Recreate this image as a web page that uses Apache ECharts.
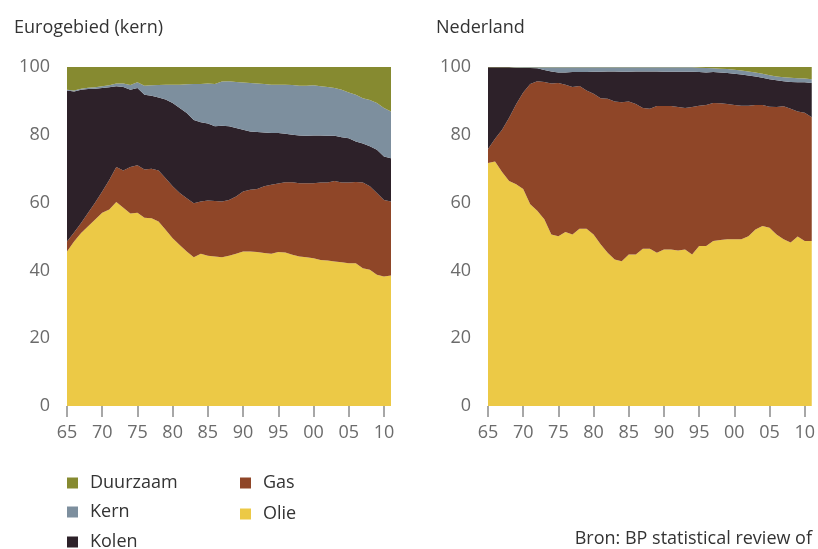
<!DOCTYPE html>
<html>
<head>
<meta charset="utf-8">
<script src="https://cdn.jsdelivr.net/npm/echarts@6/dist/echarts.min.js"></script>
<style>
html,body{margin:0;padding:0;background:#fff;}
#c{width:818px;height:549px;}
</style>
</head>
<body>
<div id="c"></div>
<script>
var years = [];
for (var y = 1965; y <= 2011; y++) years.push(String(y));

var seriesNames = ['Olie', 'Gas', 'Kolen', 'Kern', 'Duurzaam'];

// Eurogebied (kern), % share, 1965-2011
var euOlie = [45.6,48.5,51.0,53.0,55.0,57.0,58.0,60.2,58.5,56.8,57.0,55.5,55.4,54.4,52.0,49.5,47.5,45.6,43.9,44.9,44.3,44.1,43.9,44.3,44.9,45.6,45.6,45.4,45.1,44.9,45.4,45.3,44.6,44.1,43.9,43.6,43.1,42.9,42.6,42.4,42.1,42.1,40.6,40.2,38.7,38.2,38.5];
var euGas = [2.9,2.7,3.0,4.0,5.0,6.3,8.7,10.3,11.0,13.7,14.0,14.3,14.6,15.1,15.2,15.3,15.3,15.7,15.9,15.4,16.3,16.4,16.4,16.5,16.9,17.7,18.2,18.6,19.7,20.4,20.2,20.7,21.4,21.6,21.8,22.1,22.8,23.0,23.8,23.5,23.8,24.0,25.3,24.6,24.1,22.6,21.8];
var euKolen = [44.6,41.6,39.3,36.5,33.6,30.5,27.3,23.8,24.6,22.8,22.8,22.0,21.5,21.5,23.2,24.6,25.1,25.1,24.6,23.4,22.7,22.0,22.4,21.7,20.2,18.2,17.2,16.8,15.9,15.2,14.9,14.3,14.0,14.1,14.0,14.1,13.9,13.8,13.3,13.4,13.1,11.9,11.5,11.8,12.8,12.8,12.8];
var euKern = [0.2,0.3,0.3,0.4,0.4,0.5,0.6,0.8,1.0,1.4,1.7,2.7,3.1,3.7,4.4,5.4,6.9,8.5,10.6,11.3,11.8,12.5,13.0,13.3,13.6,13.9,14.3,14.3,14.3,14.3,14.3,14.5,14.7,14.7,14.8,14.8,14.5,14.4,14.1,14.0,13.5,13.8,13.4,13.7,13.8,14.3,13.8];
var euDuurzaam = [6.7,6.9,6.4,6.1,6.0,5.7,5.4,4.9,4.9,5.3,4.5,5.5,5.4,5.3,5.2,5.2,5.2,5.1,5.0,5.0,4.9,5.0,4.3,4.2,4.4,4.6,4.7,4.9,5.0,5.2,5.2,5.2,5.3,5.5,5.5,5.4,5.7,5.9,6.2,6.7,7.5,8.2,9.2,9.7,10.6,12.1,13.1];

// Nederland, % share, 1965-2011
var nlOlie = [71.7,72.1,69.0,66.4,65.4,64.0,59.5,57.6,55.1,50.6,50.1,51.3,50.6,52.3,52.3,50.6,47.7,45.2,43.2,42.7,44.7,44.7,46.4,46.4,45.2,46.2,46.2,45.9,46.2,44.7,47.2,47.2,48.7,49.0,49.2,49.2,49.2,50.1,52.1,53.1,52.6,50.6,49.2,48.2,50.0,48.7,48.7];
var nlGas = [4.1,6.7,12.5,18.6,23.6,28.5,35.5,38.2,40.5,44.5,45.2,43.5,43.5,42.1,40.8,41.5,43.1,45.4,46.6,46.9,45.1,44.4,41.5,41.3,43.3,42.3,42.3,42.3,41.7,43.5,41.4,41.6,40.7,40.3,39.9,39.6,39.4,38.5,36.7,35.7,35.7,37.6,39.2,39.5,36.9,37.8,36.5];
var nlKolen = [24.1,21.1,18.4,14.9,10.8,7.2,4.7,3.8,3.5,3.6,3.1,3.6,4.4,4.1,5.4,6.5,7.8,8.1,8.9,9.0,8.8,9.6,10.8,11.0,10.2,10.1,10.1,10.4,10.7,10.4,9.9,9.6,9.1,9.1,9.1,9.2,9.2,8.9,8.4,8.0,8.1,7.9,7.4,7.9,8.6,9.0,10.1];
var nlKern = [0,0,0,0,0.1,0.2,0.2,0.3,0.8,1.2,1.5,1.5,1.4,1.4,1.4,1.3,1.3,1.2,1.2,1.3,1.3,1.2,1.2,1.2,1.2,1.3,1.3,1.3,1.3,1.3,1.3,1.3,1.1,1.1,1.2,1.2,1.2,1.2,1.2,1.2,1.2,1.1,1.2,1.2,1.2,1.1,1.1];
var nlDuurzaam = [0.1,0.1,0.1,0.1,0.1,0.1,0.1,0.1,0.1,0.1,0.1,0.1,0.1,0.1,0.1,0.1,0.1,0.1,0.1,0.1,0.1,0.1,0.1,0.1,0.1,0.1,0.1,0.1,0.1,0.1,0.2,0.3,0.4,0.5,0.6,0.8,1.0,1.3,1.6,2.0,2.4,2.8,3.0,3.2,3.3,3.4,3.6];

var yTicks = [0, 20, 40, 60, 80, 100];

var colors = {
  Olie: '#ecc946',
  Gas: '#8f4628',
  Kolen: '#2d2129',
  Kern: '#7d8f9e',
  Duurzaam: '#868a30'
};

var FONT = 'Open Sans';
var chart = echarts.init(document.getElementById('c'), null, {renderer: 'canvas'});

function xAxis(idx) {
  return {
    type: 'category', gridIndex: idx, data: years, boundaryGap: false,
    axisLine: {show: false},
    axisTick: {show: true, length: 11, lineStyle: {color: '#8a8a8a', width: 1.5},
      interval: function (i) { return i % 5 === 0; }},
    axisLabel: {color: '#6b6b6b', fontSize: 18, fontFamily: FONT, margin: 18,
      interval: function (i) { return i % 5 === 0; },
      formatter: function (v) { return v.slice(2); }},
    splitLine: {show: false}
  };
}
function yAxis(idx) {
  return {
    type: 'value', gridIndex: idx, min: yTicks[0], max: yTicks[yTicks.length - 1], interval: 20,
    axisLine: {show: false}, axisTick: {show: false}, splitLine: {show: false},
    axisLabel: {color: '#6b6b6b', fontSize: 18, fontFamily: FONT, margin: 17}
  };
}

function mk(name, data, idx) {
  return {
    name: name, type: 'line', xAxisIndex: idx, yAxisIndex: idx,
    stack: 's' + idx, data: data, symbol: 'none', smooth: false,
    lineStyle: {width: 0}, areaStyle: {color: colors[name], opacity: 1},
    itemStyle: {color: colors[name]}, silent: true
  };
}

function leg(name, left, centerY) {
  return {
    data: [name], left: left, top: centerY - 7, padding: 0,
    itemWidth: 11, itemHeight: 11, icon: 'rect', selectedMode: false,
    textStyle: {fontSize: 18, color: '#333', fontFamily: FONT, padding: [0, 0, 0, 7]}
  };
}

var option = {
  animation: false,
  backgroundColor: '#ffffff',
  textStyle: {fontFamily: FONT},
  title: [
    {text: 'Eurogebied (kern)', left: 9, top: 14, textStyle: {fontSize: 18, fontWeight: 'normal', color: '#333', fontFamily: FONT}},
    {text: 'Nederland', left: 431, top: 14, textStyle: {fontSize: 18, fontWeight: 'normal', color: '#333', fontFamily: FONT}}
  ],
  grid: [
    {left: 67, right: 427, top: 67, bottom: 143},
    {left: 488, right: 6, top: 67, bottom: 143}
  ],
  xAxis: [xAxis(0), xAxis(1)],
  yAxis: [yAxis(0), yAxis(1)],
  legend: [
    leg('Duurzaam', 67, 481),
    leg('Kern', 67, 510),
    leg('Kolen', 67, 540),
    leg('Gas', 240, 481),
    leg('Olie', 240, 512)
  ],
  graphic: [
    {type: 'text', right: 6, top: 530, style: {text: 'Bron: BP statistical review of', font: '18px "Open Sans"', fill: '#333'}}
  ],
  series: [
    mk('Olie', euOlie, 0), mk('Gas', euGas, 0), mk('Kolen', euKolen, 0), mk('Kern', euKern, 0), mk('Duurzaam', euDuurzaam, 0),
    mk('Olie', nlOlie, 1), mk('Gas', nlGas, 1), mk('Kolen', nlKolen, 1), mk('Kern', nlKern, 1), mk('Duurzaam', nlDuurzaam, 1)
  ]
};
chart.setOption(option);
</script>
</body>
</html>
